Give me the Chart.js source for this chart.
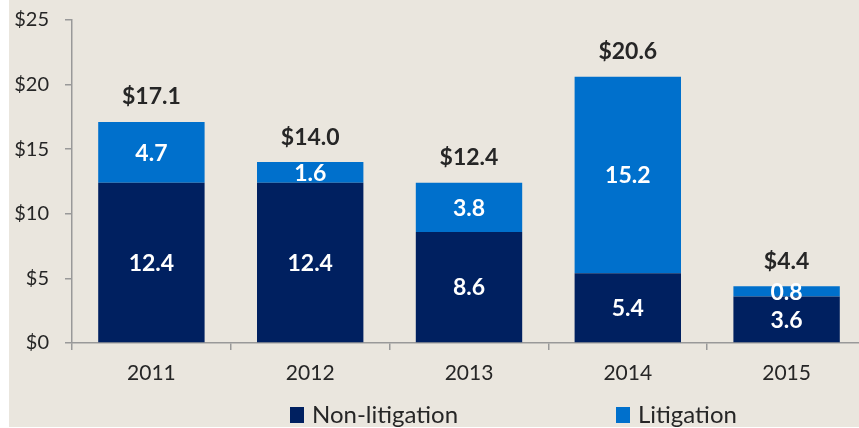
<!DOCTYPE html>
<html>
<head>
<meta charset="utf-8">
<script src="https://cdn.jsdelivr.net/npm/chart.js@4"></script>
<style>
  html, body { margin: 0; padding: 0; background: #fff; overflow: hidden; width: 859px; height: 428px; }
  .wrap { position: absolute; left: 9px; top: 0; width: 870px; height: 427px; background: #eae6de; }
</style>
</head>
<body>
<div class="wrap"><canvas class="settlements" width="870" height="427"></canvas></div>
<script>
const ctx = document.querySelector(".settlements").getContext("2d");

const YEARS = ["2011", "2012", "2013", "2014", "2015"];
const NON_LITIGATION = [12.4, 12.4, 8.6, 5.4, 3.6];
const LITIGATION = [4.7, 1.6, 3.8, 15.2, 0.8];
const Y_TICKS = [0, 5, 10, 15, 20, 25];

const NAVY = "#002060";
const BLUE = "#0070cc";
const FONT = "Lato";

// numbers inside each segment plus the $ total above each stack
const barLabels = {
  id: "barLabels",
  afterDatasetsDraw(chart) {
    const c = chart.ctx;
    c.save();
    c.font = `bold 23px ${FONT}`;
    c.textAlign = "center";
    c.textBaseline = "middle";
    chart.data.datasets.forEach((ds, i) => {
      chart.getDatasetMeta(i).data.forEach((bar, j) => {
        const mid = (bar.y + bar.base) / 2;
        c.fillStyle = "#fff";
        c.fillText(ds.data[j].toFixed(1), bar.x, mid + 1);
      });
    });
    const top = chart.getDatasetMeta(chart.data.datasets.length - 1).data;
    top.forEach((bar, j) => {
      const total = NON_LITIGATION[j] + LITIGATION[j];
      c.fillStyle = "#262626";
      c.fillText("$" + total.toFixed(1), bar.x, bar.y - 25);
    });
    c.restore();
  },
};

// legend row under the axis
const bottomLegend = {
  id: "bottomLegend",
  afterDraw(chart) {
    const c = chart.ctx;
    const spots = [281, 607];
    const y = chart.chartArea.bottom + 72;
    c.save();
    c.font = `24px ${FONT}`;
    c.textBaseline = "middle";
    chart.data.datasets.forEach((ds, i) => {
      c.fillStyle = ds.backgroundColor;
      c.fillRect(spots[i], y - 8, 14, 16);
      c.fillStyle = "#262626";
      c.fillText(ds.label, spots[i] + 22, y);
    });
    c.restore();
  },
};

new Chart(ctx, {
  type: "bar",
  data: {
    labels: YEARS,
    datasets: [
      {
        label: "Non-litigation",
        data: NON_LITIGATION,
        backgroundColor: NAVY,
        barPercentage: 0.67,
        categoryPercentage: 1,
      },
      {
        label: "Litigation",
        data: LITIGATION,
        backgroundColor: BLUE,
        barPercentage: 0.67,
        categoryPercentage: 1,
      },
    ],
  },
  options: {
    responsive: false,
    animation: false,
    layout: { padding: { top: 20, right: 13, left: 0, bottom: 0 } },
    plugins: {
      legend: { display: false },
      tooltip: { enabled: false },
    },
    scales: {
      x: {
        stacked: true,
        afterFit: (scale) => { scale.height = 84; },
        border: { color: "#999", width: 1.5 },
        grid: { drawOnChartArea: false, drawTicks: true, tickLength: 7, color: "#999", lineWidth: 1.5 },
        ticks: { color: "#262626", font: { family: FONT, size: 21 }, padding: 11, maxRotation: 0, autoSkip: false },
      },
      y: {
        stacked: true,
        min: 0,
        max: 25,
        afterFit: (scale) => {
          scale.width = 63;
          scale.paddingTop = 0;
          scale.paddingBottom = 0;
        },
        afterBuildTicks: (scale) => { scale.ticks = Y_TICKS.map((v) => ({ value: v })); },
        border: { color: "#999", width: 1.5 },
        grid: { drawOnChartArea: false, drawTicks: true, tickLength: 7, color: "#999", lineWidth: 1.5 },
        ticks: {
          color: "#262626",
          font: { family: FONT, size: 20 },
          padding: 16,
          callback: (v) => "$" + v,
        },
      },
    },
  },
  plugins: [barLabels, bottomLegend],
});
</script>
</body>
</html>
